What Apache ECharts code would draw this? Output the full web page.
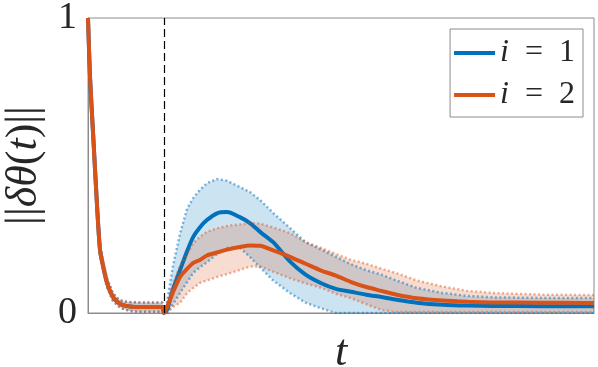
<!DOCTYPE html>
<html>
<head>
<meta charset="utf-8">
<script src="https://cdn.jsdelivr.net/npm/echarts@6/dist/echarts.min.js"></script>
<style>
html, body { margin: 0; padding: 0; background: #fff; }
#chart { width: 598px; height: 367px; }
</style>
</head>
<body>
<div id="chart"></div>
<script>
// time samples (t axis has no tick labels, 0..10 is just the span)
const tValues = [0, 0.04, 0.1, 0.18, 0.24, 0.31, 0.38, 0.49, 0.6, 0.69, 0.83, 1.0, 1.2, 1.47,
  1.5, 1.56, 1.68, 1.82, 1.96, 2.08, 2.21, 2.35, 2.55, 2.75, 3.0, 3.2, 3.4, 3.66, 3.99,
  4.3, 4.62, 4.9, 5.2, 5.5, 5.8, 6.1, 6.5, 7.0, 7.5, 8.0, 9.0, 10.0]
const switchT = 1.5
const yTicks = [0, 1]

// first phase, both cases lie on top of each other
const settleMean = [1.0, 0.8, 0.61, 0.36, 0.21, 0.15, 0.10, 0.055, 0.035, 0.027, 0.022, 0.02, 0.02, 0.02]
const settleHigh = [1.0, 0.81, 0.62, 0.375, 0.225, 0.165, 0.115, 0.068, 0.047, 0.04, 0.037, 0.036, 0.036, 0.036]
const settleLow = [1.0, 0.79, 0.6, 0.345, 0.195, 0.135, 0.085, 0.042, 0.023, 0.014, 0.007, 0.004, 0.004, 0.004]

// i = 1
const blueMean = settleMean.concat([0, 0.01, 0.08, 0.146, 0.21, 0.258, 0.29, 0.315, 0.338, 0.342,
  0.325, 0.305, 0.275, 0.24, 0.175, 0.13, 0.1, 0.082, 0.072, 0.062,
  0.054, 0.045, 0.035, 0.028, 0.025, 0.024, 0.023, 0.023])
const blueHigh = settleHigh.concat([0, 0.034, 0.16, 0.27, 0.354, 0.39, 0.417, 0.44, 0.454, 0.448,
  0.427, 0.41, 0.383, 0.339, 0.288, 0.24, 0.214, 0.19, 0.165, 0.145,
  0.13, 0.11, 0.085, 0.068, 0.058, 0.053, 0.051, 0.051])
const blueLow = settleLow.concat([0, 0, 0.03, 0.068, 0.105, 0.136, 0.155, 0.172, 0.2, 0.22,
  0.222, 0.19, 0.155, 0.11, 0.068, 0.035, 0.015, 0, 0, 0,
  0, 0, 0, 0, 0, 0, 0, 0])

// i = 2
const orangeMean = settleMean.concat([0, 0.02, 0.07, 0.122, 0.15, 0.17, 0.18, 0.195, 0.205, 0.215,
  0.224, 0.229, 0.228, 0.212, 0.19, 0.167, 0.143, 0.127, 0.105, 0.088,
  0.075, 0.062, 0.05, 0.042, 0.038, 0.036, 0.035, 0.034])
const orangeHigh = settleHigh.concat([0, 0.03, 0.1, 0.16, 0.2, 0.237, 0.258, 0.275, 0.287, 0.295,
  0.3, 0.305, 0.303, 0.29, 0.271, 0.24, 0.22, 0.2, 0.18, 0.167,
  0.15, 0.135, 0.11, 0.09, 0.075, 0.068, 0.062, 0.061])
const orangeLow = settleLow.concat([0, 0, 0.02, 0.035, 0.068, 0.085, 0.102, 0.11, 0.122, 0.132,
  0.146, 0.157, 0.158, 0.14, 0.118, 0.1, 0.085, 0.065, 0.05, 0.03,
  0.01, 0.003, 0.003, 0.003, 0.003, 0.003, 0.003, 0.003])

const chart = echarts.init(document.getElementById('chart'))

const pairs = ys => tValues.map((t, i) => [t, ys[i]])

// shaded band: one polygon (high edge then low edge back) + dotted edges
const band = (key, lo, hi, edge, fill) => {
  const edgeStyle = { color: edge, width: 2.5, type: [2, 2.5] }
  return [
    {
      name: key + '-fill', type: 'custom', silent: true, data: [0],
      renderItem: (params, api) => {
        const top = tValues.map((t, i) => api.coord([t, hi[i]]))
        const bottom = tValues.map((t, i) => api.coord([t, lo[i]])).reverse()
        return { type: 'polygon', shape: { points: top.concat(bottom) }, style: { fill: fill } }
      }
    },
    { name: key + '-low', type: 'line', data: pairs(lo), symbol: 'none', silent: true, lineStyle: edgeStyle },
    { name: key + '-high', type: 'line', data: pairs(hi), symbol: 'none', silent: true, lineStyle: edgeStyle }
  ]
}

const serif = "'Liberation Serif', serif"

const option = {
  animation: false,
  grid: {
    left: 88, right: 4, top: 18, bottom: 54,
    outerBoundsMode: 'none', containLabel: false,
    show: true, borderColor: '#8c8c8c', borderWidth: 1
  },
  xAxis: {
    type: 'value', min: 0, max: 10,
    name: 't', nameLocation: 'middle', nameGap: 18,
    nameTextStyle: { fontFamily: serif, fontStyle: 'italic', fontSize: 44, color: '#262626' },
    axisLine: { show: true, lineStyle: { color: '#8c8c8c' } },
    axisTick: { show: false }, axisLabel: { show: false }, splitLine: { show: false }
  },
  yAxis: {
    type: 'value', min: yTicks[0], max: yTicks[1], interval: 1,
    name: '{u|||}{it|δθ}{u|(}{it|t}{u|)}{u|||}', nameLocation: 'middle', nameGap: 42,
    nameTextStyle: {
      rich: {
        u: { fontFamily: serif, fontSize: 44, color: '#262626' },
        it: { fontFamily: serif, fontStyle: 'italic', fontSize: 44, color: '#262626' }
      }
    },
    axisLine: { show: true, lineStyle: { color: '#8c8c8c' } },
    axisTick: { show: false }, splitLine: { show: false },
    axisLabel: { fontFamily: serif, fontSize: 38, color: '#262626', margin: 11 }
  },
  legend: {
    data: ['i = 1', 'i = 2'],
    orient: 'vertical', right: 15, top: 29,
    backgroundColor: '#fff', borderColor: '#8c8c8c', borderWidth: 1,
    padding: [8, 8, 6, 4], itemWidth: 41, itemHeight: 4, itemGap: 10, icon: 'rect',
    formatter: n => '{it|i}{u|\u2002=\u2002' + n.slice(-1) + '}',
    textStyle: {
      rich: {
        u: { fontFamily: serif, fontSize: 32, color: '#262626' },
        it: { fontFamily: serif, fontStyle: 'italic', fontSize: 32, color: '#262626' }
      }
    }
  },
  series: [
    ...band('blue', blueLow, blueHigh, 'rgba(0,114,189,0.5)', 'rgba(0,114,189,0.2)'),
    {
      name: 'i = 1', type: 'line', data: pairs(blueMean), symbol: 'none', smooth: 0.25,
      lineStyle: { color: '#0072BD', width: 4 }, itemStyle: { color: '#0072BD' },
      markLine: {
        silent: true, symbol: ['none', 'none'], label: { show: false },
        lineStyle: { color: '#000', type: [8, 4], width: 1.2 },
        data: [{ xAxis: switchT }]
      }
    },
    ...band('orange', orangeLow, orangeHigh, 'rgba(217,83,25,0.45)', 'rgba(217,83,25,0.2)'),
    {
      name: 'i = 2', type: 'line', data: pairs(orangeMean), symbol: 'none', smooth: 0.25,
      lineStyle: { color: '#D95319', width: 4 }, itemStyle: { color: '#D95319' }
    }
  ]
}
chart.setOption(option)
</script>
</body>
</html>
